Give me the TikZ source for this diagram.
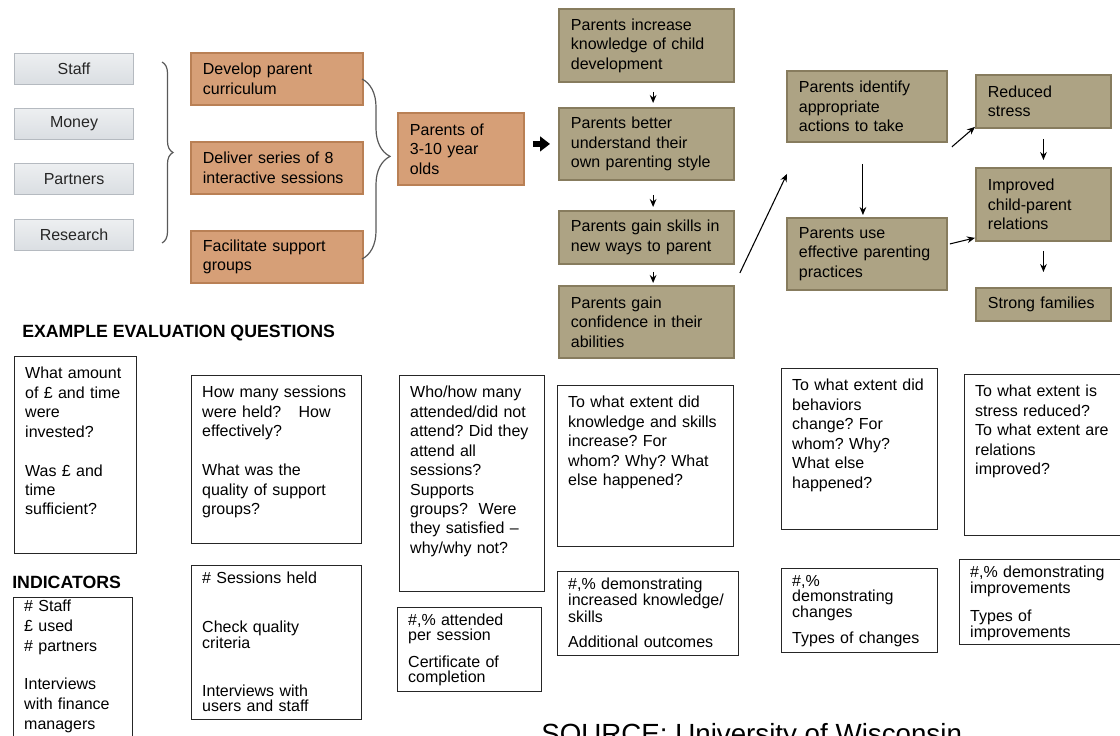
\documentclass[tikz,border=0pt]{standalone}
\usepackage{fontspec}
\setmainfont{Liberation Sans}
\usetikzlibrary{arrows.meta,decorations.pathreplacing}
\frenchspacing

\definecolor{actfill}{HTML}{D69F77}
\definecolor{actdraw}{HTML}{B98055}
\definecolor{outfill}{HTML}{ADA384}
\definecolor{outdraw}{HTML}{877C5E}
\definecolor{intop}{HTML}{EDEFF1}
\definecolor{inbot}{HTML}{DADEE2}
\definecolor{indraw}{HTML}{B5BAC0}

\newcommand{\boxfont}{\fontsize{12}{14.6}\selectfont}
\newcommand{\indfont}{\fontsize{12}{11}\selectfont}
\newcommand{\headfont}{\fontsize{13.3}{16}\selectfont\bfseries}

\begin{document}
\begin{tikzpicture}[x=0.75pt,y=-0.75pt,
  input node/.style={draw=indraw,line width=0.8pt,top color=intop,bottom color=inbot,anchor=north west,minimum width=89.25pt,minimum height=23.25pt,inner sep=0pt,text=black!85,font=\boxfont},
  activity node/.style={draw=actdraw,fill=actfill,line width=1.4pt,anchor=north west,align=left,inner xsep=9pt,inner ysep=2pt,font=\boxfont},
  outcome node/.style={draw=outdraw,fill=outfill,line width=1.4pt,anchor=north west,align=left,inner xsep=9pt,inner ysep=2pt,font=\boxfont},
  question node/.style={draw=black!85,line width=0.8pt,anchor=north west,align=left,inner xsep=8pt,inner ysep=8pt,text height=8.6pt,font=\boxfont},
  indicator node/.style={draw=black!85,line width=0.8pt,anchor=north west,align=left,inner xsep=8pt,inner ysep=5pt,text height=8.6pt,font=\indfont},
  small arrow/.style={draw=black,line width=0.8pt,-{Stealth[length=6pt,width=5pt]}},
  fat arrow/.style={draw=black,line width=4.5pt,-{Triangle[length=7.5pt,width=11pt]},shorten <=6pt,shorten >=6pt},
  brace line/.style={draw=black!65,line width=0.9pt,decorate}]

  \useasboundingbox (0,0) rectangle (1120,735);

  % inputs
  \node[input node] (s0) at (14,53) {Staff};
  \node[input node] (s1) at (14,108) {Money};
  \node[input node] (s2) at (14,163) {Partners};
  \node[input node] (s3) at (14,219) {Research};

  \coordinate (b0) at (162,62);
  \coordinate (b1) at (162,243);
  \draw[brace line,decoration={brace,amplitude=8.25pt}] (b0) -- (b1);

  % activities
  \node[activity node,text width=111pt,minimum height=39pt] (a0) at (190,52) {Develop parent\\curriculum};
  \node[activity node,text width=111pt,minimum height=39pt] (a1) at (190,141) {Deliver series of 8\\interactive sessions};
  \node[activity node,text width=111pt,minimum height=39pt] (a2) at (190,230) {Facilitate support\\groups};

  \coordinate (b2) at (362,79);
  \coordinate (b3) at (362,259);
  \draw[brace line,decoration={brace,amplitude=21pt,aspect=0.43}] (b2) -- (b3);

  \node[activity node,text width=76.5pt,minimum height=54pt] (pt) at (397,112) {Parents of\\3-10 year\\olds};

  % short term outcomes
  \node[outcome node,text width=113.25pt,minimum height=54.75pt] (o0) at (558,8) {Parents increase\\knowledge of child\\development};
  \node[outcome node,text width=113.25pt,minimum height=54pt] (o1) at (558,107) {Parents better\\understand their\\own parenting style};
  \node[outcome node,text width=113.25pt,minimum height=39.75pt] (o2) at (558,210) {Parents gain skills in\\new ways to parent};
  \node[outcome node,text width=113.25pt,minimum height=54pt] (o3) at (558,285) {Parents gain\\confidence in their\\abilities};

  % medium term outcomes
  \node[outcome node,text width=102pt,minimum height=53.25pt] (m0) at (786,70) {Parents identify\\appropriate\\actions to take};
  \node[outcome node,text width=102pt,minimum height=54pt] (m1) at (786,217) {Parents use\\effective parenting\\practices};

  % long term outcomes
  \node[outcome node,text width=83.25pt,minimum height=39.75pt] (l0) at (975,74) {Reduced\\stress};
  \node[outcome node,text width=83.25pt,minimum height=54.75pt] (l1) at (975,167) {Improved\\child-parent\\relations};
  \node[outcome node,text width=83.25pt,minimum height=24.75pt] (l2) at (975,287) {Strong families};

  % links
  \draw[fat arrow] (pt.east |- o1.west) -- (o1.west);
  \draw[small arrow,shorten <=6.75pt,shorten >=3pt] ([xshift=5pt]o0.south) -- ([xshift=5pt]o1.north);
  \draw[small arrow,shorten <=10.5pt,shorten >=2.25pt] ([xshift=5pt]o1.south) -- ([xshift=5pt]o2.north);
  \draw[small arrow,shorten <=5.25pt,shorten >=1.5pt] ([xshift=5pt]o2.south) -- ([xshift=5pt]o3.north);
  \draw[small arrow] ([shift={(5,-12)}]o3.north east) -- ([shift={(1,31)}]m0.south west);
  \draw[small arrow,shorten <=15.75pt,shorten >=1.5pt] ([xshift=-3pt]m0.south) -- ([xshift=-3pt]m1.north);
  \draw[small arrow] ([shift={(4,4)}]m0.south east) -- ([shift={(0,-2)}]l0.south west);
  \draw[small arrow] ([shift={(2,-10)}]m1.east) -- ([shift={(0,-4)}]l1.south west);
  \draw[small arrow,shorten <=7.5pt,shorten >=5.25pt] (l0.south) -- (l1.north);
  \draw[small arrow,shorten <=6.75pt,shorten >=11.25pt] (l1.south) -- (l2.north);

  % evaluation questions
  \node[anchor=base west,inner sep=0pt,font=\headfont] (h0) at (22,337) {EXAMPLE EVALUATION QUESTIONS};
  \node[question node,text width=75.5pt,text depth=123.15pt] (q0) at (14,356) {What amount\\of £ and time\\were\\invested?\\[14.6pt]Was £ and\\time\\sufficient?};
  \node[question node,text width=111.5pt,text depth=101.4pt] (q1) at (191,375) {How many sessions\\were held?\hspace{0.75em} How\\effectively?\\[14.6pt]What was the\\quality of support\\groups?};
  \node[question node,text width=92.75pt,text depth=137.4pt] (q2) at (399,375) {Who/how many\\attended/did not\\attend? Did they\\attend all\\sessions?\\Supports\\groups?\ \ Were\\they satisfied --\\why/why not?};
  \node[question node,text width=116pt,text depth=96.15pt] (q3) at (557,385) {To what extent did\\knowledge and skills\\increase? For\\whom? Why? What\\else happened?};
  \node[question node,text width=101pt,text depth=96.15pt] (q4) at (781,368) {To what extent did\\behaviors\\change? For\\whom? Why?\\What else\\happened?};
  \node[question node,text width=101pt,text depth=96.15pt] (q5) at (964,374) {To what extent is\\stress reduced?\\To what extent are\\relations\\improved?};

  % indicators
  \node[anchor=base west,inner sep=0pt,font=\headfont] (h1) at (12,588) {INDICATORS};
  \node[indicator node,font=\fontsize{12}{15}\selectfont,inner ysep=2pt,text width=73.25pt,text depth=102pt] (i0) at (13,597) {\# Staff\\£ used\\\# partners\\[13.5pt]Interviews\\with finance\\managers};
  \node[indicator node,text width=111.5pt,text depth=96.9pt] (i1) at (191,565) {\# Sessions held\\[25.75pt]Check quality\\criteria\\[25pt]Interviews with\\users and staff};
  \node[indicator node,text width=92pt,text depth=44.4pt] (i2) at (397,607) {\#,\% attended\\per session\\[8.5pt]Certificate of\\completion};
  \node[indicator node,text width=119.75pt,text depth=44.4pt] (i3) at (557,571) {\#,\% demonstrating\\increased knowledge/\\skills\\[8pt]Additional outcomes};
  \node[indicator node,text width=101pt,text depth=44.4pt] (i4) at (781,568) {\#,\%\\demonstrating\\changes\\[7pt]Types of changes};
  \node[indicator node,text width=104.5pt,text depth=45.15pt] (i5) at (959,559) {\#,\% demonstrating\\improvements\\[8.5pt]Types of\\improvements};

  \node[anchor=base west,inner sep=0pt,font=\fontsize{20.8}{24}\selectfont] (src) at (541,743) {SOURCE: University of Wisconsin};
\end{tikzpicture}
\end{document}
